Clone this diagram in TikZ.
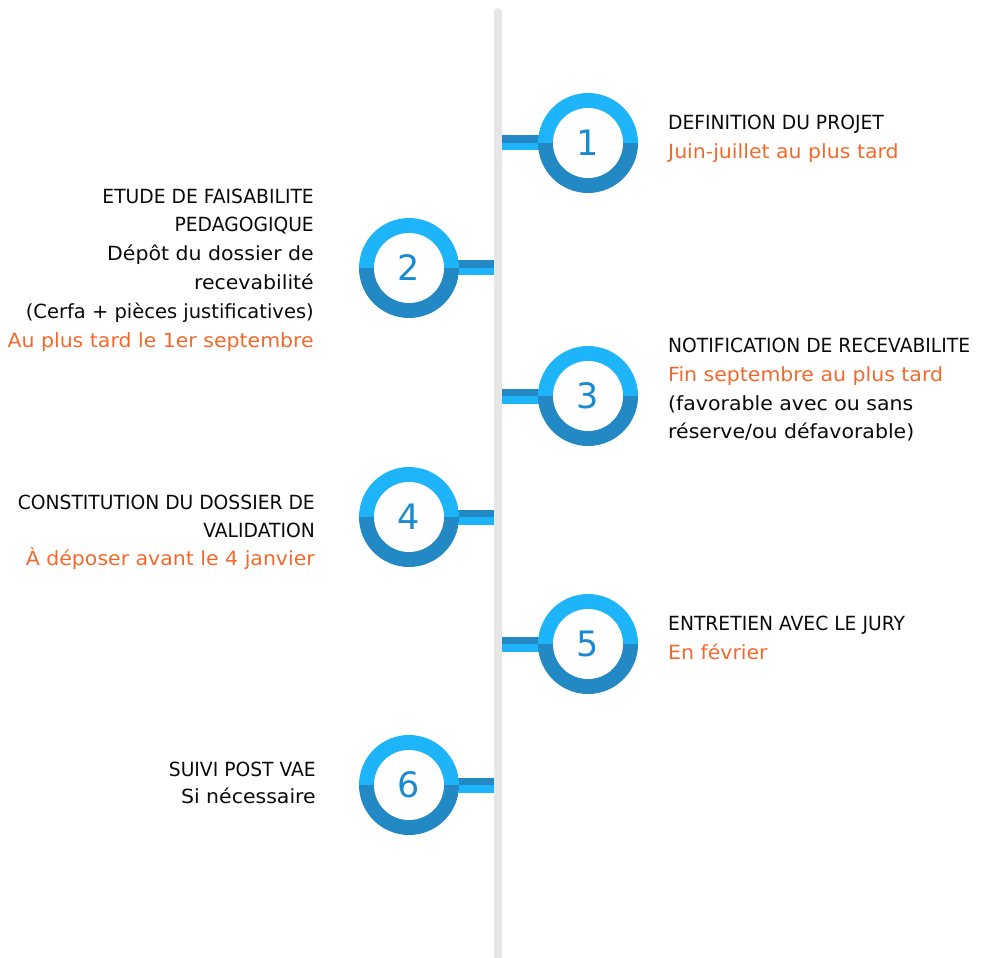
\documentclass[tikz,border=0pt]{standalone}
\usepackage{fontspec}
\setmainfont{DejaVu Sans}
\newfontfamily\capfam[FakeStretch=0.96]{DejaVu Sans}
\newfontfamily\lowfam[FakeStretch=1.05]{DejaVu Sans}
\usetikzlibrary{backgrounds}
\definecolor{ringlight}{HTML}{1EB4FA}
\definecolor{ringdark}{HTML}{2389C5}
\definecolor{numblue}{HTML}{1A8BD0}
\definecolor{txtblack}{HTML}{0A0A0A}
\definecolor{txtorange}{HTML}{F4692B}
\definecolor{axisgray}{HTML}{E6E6E6}
\newcommand\txtfont{\fontsize{19.5}{29}\selectfont}
\newcommand\numfont{\fontsize{35}{40}\selectfont}
\tikzset{
  stepcircle/.style={circle, minimum size=100pt, inner sep=0pt, font=\numfont, text=numblue,
    path picture={
      \fill[ringlight] (path picture bounding box.west) rectangle (path picture bounding box.north east);
      \fill[ringdark] (path picture bounding box.west) rectangle (path picture bounding box.south east);
      \fill[white] (path picture bounding box.center) circle (35pt);
    }},
  lbl/.style={font=\txtfont\lowfam, text=txtblack, inner sep=0pt},
  caps/.style={font=\txtfont\capfam},
  plain/.style={font=\txtfont\rmfamily},
  rl/.style={lbl, anchor=base west},
  ll/.style={lbl, anchor=base east},
  org/.style={text=txtorange},
  conndark/.style={ringdark, line width=7.5pt},
  connlight/.style={ringlight, line width=7.5pt},
  axis/.style={axisgray, line width=8pt, line cap=round}
}
\begin{document}
\begin{tikzpicture}[x=1pt, y=-1pt]
\useasboundingbox (0,0) rectangle (981,957);
% circles
\node[stepcircle] (c1) at (588,143) {1};
\node[stepcircle] (c2) at (409,268) {2};
\node[stepcircle] (c3) at (588,396) {3};
\node[stepcircle] (c4) at (409,517) {4};
\node[stepcircle] (c5) at (588,644) {5};
\node[stepcircle] (c6) at (409,785) {6};
% axis anchor points
\coordinate (top) at (498,12);
\coordinate (bot) at (498,962);
\coordinate (a1) at (502,143);
\coordinate (a2) at (494,268);
\coordinate (a3) at (502,396);
\coordinate (a4) at (494,517);
\coordinate (a5) at (502,644);
\coordinate (a6) at (494,785);
\begin{scope}[on background layer]
  \draw[axis] (top) -- (bot);
  \foreach \i in {1,...,6} {
    \draw[conndark] ([yshift=3.75pt]a\i) -- ([yshift=3.75pt]c\i.center);
    \draw[connlight] ([yshift=-3.75pt]a\i) -- ([yshift=-3.75pt]c\i.center);
  }
\end{scope}
% texts
\node[rl, caps] (t1a) at (668,130) {DEFINITION DU PROJET};
\node[rl, org] (t1b) at (668,159) {Juin-juillet au plus tard};

\node[ll, caps] (t2a) at (314,204) {ETUDE DE FAISABILITE};
\node[ll, caps] (t2b) at (314,232) {PEDAGOGIQUE};
\node[ll] (t2c) at (314,261) {Dépôt du dossier de};
\node[ll] (t2d) at (314,290) {recevabilité};
\node[ll, plain] (t2e) at (314,318) {(Cerfa + pièces justificatives)};
\node[ll, org] (t2f) at (314,347) {Au plus tard le 1er septembre};

\node[rl, caps] (t3a) at (668,352) {NOTIFICATION DE RECEVABILITE};
\node[rl, org] (t3b) at (668,381) {Fin septembre au plus tard};
\node[rl] (t3c) at (668,410) {(favorable avec ou sans};
\node[rl] (t3d) at (668,438) {réserve/ou défavorable)};

\node[ll, caps] (t4a) at (315,509) {CONSTITUTION DU DOSSIER DE};
\node[ll, caps] (t4b) at (315,537) {VALIDATION};
\node[ll, org] (t4c) at (315,565) {À déposer avant le 4 janvier};

\node[rl, caps] (t5a) at (668,630) {ENTRETIEN AVEC LE JURY};
\node[rl, org] (t5b) at (668,659) {En février};

\node[ll, caps] (t6a) at (316,776) {SUIVI POST VAE};
\node[ll] (t6b) at (316,803) {Si nécessaire};
\end{tikzpicture}
\end{document}
